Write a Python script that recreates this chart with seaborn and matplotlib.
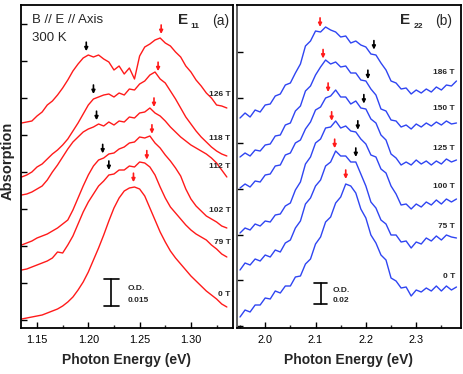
import numpy as np
import pandas as pd
import matplotlib
matplotlib.use("Agg")
import matplotlib.pyplot as plt
from matplotlib.ticker import MultipleLocator
import seaborn as sns

# ---------------- data (absorption, arb. units, vertically offset) ----------------
E_E11 = np.round(np.linspace(1.135, 1.335, 41), 4)   # photon energy grid, eV
E_E22 = np.round(np.linspace(1.95, 2.38, 44), 4)

e11_fields = ["126 T", "118 T", "112 T", "102 T", "79 T", "0 T"]
e11_126T = [207, 208, 209, 214, 218, 225, 229, 235, 242, 250, 259, 266, 272, 275, 273, 275, 271, 268, 260, 264,
            256, 262, 251, 274, 283, 286, 290, 292, 287, 284, 278, 273, 264, 258, 250, 244, 237, 232, 225, 224, 222]
e11_118T = [153, 155, 158, 163, 166, 171, 176, 180, 185, 191, 199, 207, 216, 225, 231, 233, 235, 236, 233, 237,
            235, 241, 240, 246, 249, 255, 258, 251, 247, 239, 231, 222, 213, 206, 199, 193, 188, 183, 179, 176, 174]
e11_112T = [135, 136, 138, 141, 144, 150, 158, 165, 173, 181, 188, 193, 198, 201, 203, 206, 204, 208, 205, 209,
            208, 213, 212, 217, 218, 222, 217, 214, 209, 203, 198, 193, 189, 185, 182, 179, 176, 172, 167, 160, 153]
e11_102T = [85, 87, 89, 92, 94, 96, 99, 102, 106, 110, 120, 132, 144, 155, 164, 170, 172, 176, 177, 181,
            183, 187, 188, 193, 192, 194, 187, 182, 175, 169, 162, 154, 141, 131, 124, 119, 114, 111, 108, 104, 102]
e11_79T = [60, 61, 63, 65, 67, 69, 72, 78, 77, 85, 94, 106, 118, 128, 136, 144, 149, 155, 156, 160,
           160, 164, 163, 168, 167, 163, 155, 143, 132, 123, 117, 111, 105, 100, 96, 93, 90, 85, 81, 76, 73]
e11_0T = [11, 12, 13, 14, 15, 17, 19, 21, 24, 28, 33, 40, 48, 58, 70, 82, 95, 109, 122, 132,
          139, 142, 143, 141, 134, 122, 110, 98, 88, 79, 72, 66, 60, 54, 49, 44, 39, 35, 31, 26, 23]
e11_curves = [e11_126T, e11_118T, e11_112T, e11_102T, e11_79T, e11_0T]
e11_label_y = [236, 192, 163, 119, 88, 35]
e11_red_E = [1.271, 1.268, 1.264, 1.262, 1.257, 1.244]      # main peak markers
e11_black_E = [1.198, 1.205, 1.208, 1.214, 1.220]           # split-peak markers

e22_fields = ["186 T", "150 T", "125 T", "100 T", "75 T", "0 T"]
e22_186T = [212, 217, 213, 220, 218, 225, 226, 234, 236, 245, 247, 257, 266, 284, 289, 299, 298, 303, 300, 298, 293, 294,
            287, 289, 285, 283, 276, 275, 267, 260, 249, 247, 241, 242, 236, 240, 237, 241, 238, 243, 240, 245, 244, 249]
e22_150T = [173, 177, 174, 180, 179, 185, 186, 194, 195, 205, 207, 219, 224, 239, 244, 255, 263, 270, 266, 268, 263, 264,
            257, 257, 250, 249, 241, 235, 221, 219, 210, 209, 203, 205, 201, 206, 203, 207, 204, 208, 205, 209, 206, 207]
e22_125T = [142, 146, 143, 149, 148, 155, 156, 164, 165, 175, 177, 187, 190, 201, 208, 220, 223, 232, 234, 240, 233, 233,
            226, 229, 222, 221, 211, 207, 195, 190, 176, 172, 165, 168, 165, 170, 166, 169, 165, 169, 166, 171, 168, 170]
e22_100T = [97, 102, 100, 106, 104, 109, 108, 115, 116, 124, 127, 140, 148, 166, 173, 187, 191, 202, 203, 209, 202, 204,
            199, 198, 191, 186, 175, 173, 161, 157, 144, 136, 125, 126, 121, 126, 123, 128, 125, 130, 126, 131, 128, 131]
e22_75T = [60, 67, 65, 71, 69, 75, 73, 80, 78, 87, 90, 102, 109, 126, 132, 144, 150, 164, 168, 179, 174, 174,
           168, 168, 156, 144, 128, 122, 110, 106, 95, 95, 88, 89, 82, 88, 86, 92, 89, 94, 90, 95, 93, 92]
e22_0T = [13, 20, 18, 25, 25, 32, 31, 39, 37, 44, 44, 53, 54, 66, 71, 86, 93, 108, 113, 127, 133, 146,
          144, 137, 121, 112, 95, 87, 75, 70, 52, 49, 42, 43, 34, 40, 38, 42, 39, 44, 39, 44, 40, 43]
e22_curves = [e22_186T, e22_150T, e22_125T, e22_100T, e22_75T, e22_0T]
e22_label_y = [258, 222, 182, 144, 104, 54]
e22_red_E = [2.109, 2.115, 2.125, 2.132, 2.138, 2.160]
e22_black_E = [2.216, 2.204, 2.196, 2.184, 2.180]

e11_ticks = [1.15, 1.20, 1.25, 1.30]
e11_ticklabels = ["1.15", "1.20", "1.25", "1.30"]
e22_ticks = [2.0, 2.1, 2.2, 2.3]
e22_ticklabels = ["2.0", "2.1", "2.2", "2.3"]

RED = "#ff1a1a"
BLUE = "#2f45f2"

# ---------------- figure ----------------
sns.set_theme(style="ticks")
plt.rcParams["font.family"] = ["Liberation Sans", "DejaVu Sans"]

W, H = 464, 374
fig = plt.figure(figsize=(W / 100, H / 100), dpi=100)
axL = fig.add_axes([21 / W, 1 - 328 / H, 212 / W, 323 / H])
axR = fig.add_axes([237 / W, 1 - 328 / H, 224 / W, 323 / H])


def long_df(E, curves, fields):
    rows = []
    for f, c in zip(fields, curves):
        rows.append(pd.DataFrame({"E": E, "A": c, "field": f}))
    return pd.concat(rows, ignore_index=True)


dfL = long_df(E_E11, e11_curves, e11_fields)
dfR = long_df(E_E22, e22_curves, e22_fields)
sns.lineplot(data=dfL, x="E", y="A", units="field", estimator=None, color=RED,
             linewidth=1.0, ax=axL, legend=False)
sns.lineplot(data=dfR, x="E", y="A", units="field", estimator=None, color=BLUE,
             linewidth=1.0, ax=axR, legend=False)


def arrows(ax, E, curves, xs, color):
    for x, c in zip(xs, curves):
        tip = np.interp(x, E, c) + 5
        ax.annotate("", xy=(x, tip), xytext=(x, tip + 9),
                    arrowprops=dict(arrowstyle="-|>", color=color, lw=1.2,
                                    mutation_scale=5, shrinkA=0, shrinkB=0))


arrows(axL, E_E11, e11_curves, e11_red_E, RED)
arrows(axL, E_E11, e11_curves[:5], e11_black_E, "black")
arrows(axR, E_E22, e22_curves, e22_red_E, RED)
arrows(axR, E_E22, e22_curves[:5], e22_black_E, "black")

for ax, xlim, ticks, tlabels, minor, ytk in [
        (axL, (1.1344, 1.341), e11_ticks, e11_ticklabels, 0.025, [10, 47, 84, 121, 158, 195, 232, 269, 306]),
        (axR, (1.944, 2.389), e22_ticks, e22_ticklabels, 0.05, [4, 50, 95, 141, 187, 232, 278])]:
    ax.set_xlim(*xlim)
    ax.set_ylim(2, 325)
    ax.set_xticks(ticks)
    ax.set_xticklabels(tlabels)
    ax.xaxis.set_minor_locator(MultipleLocator(minor))
    ax.set_yticks(ytk)
    ax.set_yticklabels([])
    ax.tick_params(axis="both", which="major", direction="in", length=4, width=1,
                   labelsize=7.8, pad=5, colors="black")
    ax.tick_params(axis="x", which="minor", direction="in", length=2.5, width=1)
    ax.tick_params(top=False, right=False)
    for s in ax.spines.values():
        s.set_color("black")
        s.set_linewidth(1.3)
    ax.set_xlabel("Photon Energy (eV)", fontsize=10, fontweight="bold", labelpad=6)
    ax.set_ylabel("")

axR.spines["left"].set_color("#555555")

fig.text(8 / W, 1 - 161 / H, "Absorption", rotation=90, ha="center", va="center",
         fontsize=10.5, fontweight="bold")

# field labels
for ax, xr, ys, names in [(axL, 1.3384, e11_label_y, e11_fields),
                          (axR, 2.377, e22_label_y, e22_fields)]:
    for y, n in zip(ys, names):
        ax.text(xr, y, n, ha="right", va="center", fontsize=6, fontweight="bold")

# panel annotations
axL.text(0.052, 0.954, "B // E // Axis", transform=axL.transAxes, ha="left", va="center", fontsize=9.5)
axL.text(0.052, 0.898, "300 K", transform=axL.transAxes, ha="left", va="center", fontsize=9.5)
axL.text(0.741, 0.954, "E", transform=axL.transAxes, ha="left", va="center", fontsize=11, fontweight="bold")
axL.text(0.797, 0.932, "11", transform=axL.transAxes, ha="left", va="center", fontsize=6, fontweight="bold")
axL.text(0.981, 0.952, "(a)", transform=axL.transAxes, ha="right", va="center", fontsize=10)
axR.text(0.728, 0.954, "E", transform=axR.transAxes, ha="left", va="center", fontsize=11, fontweight="bold")
axR.text(0.79, 0.932, "22", transform=axR.transAxes, ha="left", va="center", fontsize=6, fontweight="bold")
axR.text(0.962, 0.952, "(b)", transform=axR.transAxes, ha="right", va="center", fontsize=10)

# O.D. scale bars
for ax, x, y0, y1, cap, lab, tx, yod, ylab in [
        (axL, 1.2224, 24, 51, 0.0073, "0.015", 1.238, 42, 29),
        (axR, 2.1107, 26, 47, 0.013, "0.02", 2.1345, 40, 29)]:
    ax.plot([x, x], [y0, y1], color="black", lw=1.2)
    ax.plot([x - cap, x + cap], [y0, y0], color="black", lw=1.2)
    ax.plot([x - cap, x + cap], [y1, y1], color="black", lw=1.2)
    ax.text(tx, yod, "O.D.", fontsize=6, fontweight="bold", ha="left", va="center")
    ax.text(tx, ylab, lab, fontsize=6, fontweight="bold", ha="left", va="center")

fig.savefig("out.png", dpi=100)
